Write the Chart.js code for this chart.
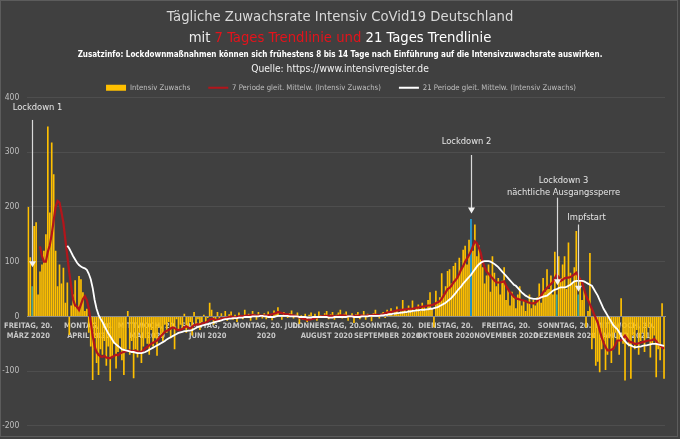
<!DOCTYPE html>
<html>
<head>
<meta charset="utf-8">
<script src="https://cdn.jsdelivr.net/npm/chart.js@4.4.1/dist/chart.umd.min.js"></script>
<style>
  html, body { margin: 0; padding: 0; background: #404040; }
</style>
</head>
<body>
<canvas id="myChart" width="680" height="439"></canvas>
<script>
// Daily ICU growth, one value per day starting Friday 20 March 2020
const startDay = [2020, 2, 20];

const zuwachs = [
  200, 108, 55, 165, 172, 40, 82, 95, 120, 150,
  347, 190, 318, 260, 120, 55, 95, 60, 89, 25,
  62, -34, 20, 40, 66, 15, 74, 68, 44, 10,
  14, -30, -55, -116, -40, -85, -107, -60, -70, -45,
  -90, -55, -118, -75, -50, -95, -65, -40, -80, -107,
  -60, 10, -70, -45, -113, -60, -75, -30, -85, -55,
  -40, -50, -70, -25, -55, -40, -72, -20, -35, -45,
  -15, -30, -10, -40, -20, -60, -5, -25, -15, -23,
  5, -30, -20, -10, -35, 8, -15, -5, -25, -10,
  3, -12, -3, 25, 12, -15, -5, 8, -10, 6,
  -4, 10, -8, 4, 9, -6, 3, -10, 7, 2,
  -5, 12, -3, 5, -8, 10, 4, -6, 8, 2,
  -4, 6, -5, 9, 3, -7, 11, 5, 17, 2,
  -6, 8, 4, -3, 6, 11, -4, 3, 7, -14,
  2, -6, 5, -10, 3, 7, -4, 5, -8, 9,
  2, -3, 6, 10, -5, 4, 8, -6, 3, 7,
  12, -4, 5, 9, -8, 2, 6, -12, 4, 8,
  -5, 3, 10, -6, 5, 2, -9, 6, 12, 3,
  -4, 5, 8, -3, 12, 6, 15, 2, 10, 18,
  4, 9, 30, 12, 6, 20, 14, 29, 8, 16,
  22, 10, 25, 18, 12, 30, 44, 15, -20, 47,
  28, 35, 79, 40, 55, 83, 86, 60, 92, 98,
  70, 107, 85, 122, 129, 95, 140, 178, 120, 168,
  110, 130, 104, 90, 60, 75, 95, 45, 110, 80,
  55, 70, 40, 65, 90, 30, 50, 20, 45, 35,
  15, 40, 55, 20, 30, 10, 25, 40, 15, 30,
  20, 35, 60, 25, 70, 45, 86, 50, 75, 40,
  118, 40, 110, 70, 95, 110, 50, 135, 80, 60,
  90, 156, 40, 70, 30, 50, -20, 10, 116, -60,
  -40, -90, -83, -102, -60, -45, -98, -70, -40, -85,
  -60, -30, -45, -70, 33, -50, -117, -40, -55, -114,
  -35, -60, -25, -70, -45, -30, -65, -40, -20, -75,
  -50, -35, -111, -60, -80, 24, -114
];

const trend7 = [
  null, null, null, null, null, null, 128, 110, 100, 100,
  118, 130, 150, 175, 200, 211, 208, 190, 171, 140,
  110, 80, 55, 30, 20, 18, 12, 22, 32, 37,
  30, 15, -10, -35, -55, -65, -70, -73, -74, -72,
  -75, -76, -76, -74, -72, -70, -71, -68, -66, -65,
  -64, -63, -62, -64, -63, -63, -64, -65, -65, -62,
  -58, -56, -53, -50, -48, -46, -44, -40, -36, -32,
  -28, -26, -25, -22, -20, -21, -24, -25, -24, -23,
  -20, -18, -20, -22, -19, -16, -15, -14, -15, -13,
  -12, -11, -9, -6, -4, -5, -6, -7, -5, -4,
  -3, -3, -2, -1, 0, -1, -2, -1, 0, 1,
  0, 1, 2, 1, 2, 3, 2, 1, 2, 2,
  1, 2, 1, 2, 3, 4, 5, 6, 8, 7,
  6, 5, 4, 4, 3, 2, 2, 1, 0, -2,
  -3, -4, -5, -6, -6, -5, -4, -3, -2, -1,
  0, 0, 1, 1, 1, 1, 1, 0, 0, 1,
  2, 2, 2, 1, 1, 0, 0, 1, 1, 1,
  2, 2, 1, 1, 2, 2, 2, 3, 3, 3,
  2, 3, 4, 6, 7, 8, 8, 9, 10, 11,
  11, 12, 12, 13, 13, 14, 14, 14, 15, 16,
  16, 17, 18, 18, 19, 20, 20, 21, 22, 24,
  26, 28, 32, 38, 44, 50, 52, 56, 62, 66,
  71, 78, 86, 92, 100, 106, 112, 119, 128, 137,
  134, 126, 116, 100, 90, 82, 78, 74, 70, 66,
  62, 62, 62, 63, 64, 56, 50, 44, 40, 36,
  33, 32, 31, 30, 29, 28, 26, 25, 24, 24,
  25, 28, 32, 38, 44, 48, 52, 56, 59, 63,
  70, 76, 72, 65, 67, 70, 71, 71, 72, 74,
  77, 80, 74, 68, 62, 50, 38, 30, 22, 14,
  5, -3, -11, -25, -38, -48, -56, -62, -62, -61,
  -59, -52, -44, -44, -44, -40, -35, -40, -45, -47,
  -48, -50, -50, -49, -48, -47, -46, -45, -44, -44,
  -43, -41, -45, -50, -53, -56, -59
];

const trend21 = [
  null, null, null, null, null, null, null, null, null, null,
  null, null, null, null, null, null, null, null, null, null,
  129, 124, 117, 110, 104, 98, 94, 91, 89, 88,
  85, 78, 68, 52, 30, 14, 3, -4, -10, -17,
  -24, -31, -36, -42, -48, -51, -54, -57, -60, -61,
  -62, -63, -64, -65, -65, -66, -67, -67, -67, -66,
  -65, -63, -61, -59, -57, -55, -53, -51, -49, -47,
  -45, -42, -40, -38, -36, -34, -32, -30, -29, -28,
  -27, -27, -26, -26, -25, -23, -21, -19, -18, -17,
  -16, -15, -14, -13, -12, -11, -10, -9, -8, -7,
  -6, -5, -5, -4, -4, -3, -3, -3, -2, -2,
  -2, -1, -1, -1, -1, 0, 0, 0, 0, 1,
  1, 0, 0, -1, -1, -1, -1, 0, 1, 1,
  1, 1, 1, 1, 0, 0, 0, 0, 0, -1,
  -1, -1, -1, -2, -2, -2, -1, -1, -1, -1,
  -1, -1, -1, -1, -2, -2, -2, -1, -1, -1,
  -1, -1, -1, -1, 0, 0, 0, -1, -1, -1,
  -1, 0, 0, 0, 0, 1, 1, 1, 1, 1,
  1, 2, 2, 3, 3, 4, 4, 5, 5, 6,
  6, 7, 7, 8, 8, 9, 9, 10, 10, 11,
  11, 12, 12, 12, 13, 13, 14, 14, 15, 16,
  17, 19, 21, 23, 25, 28, 31, 34, 38, 42,
  47, 51, 55, 60, 64, 68, 72, 76, 81, 86,
  91, 95, 98, 100, 101, 101, 101, 100, 98, 96,
  93, 90, 86, 82, 78, 74, 70, 66, 62, 58,
  56, 52, 48, 44, 41, 38, 36, 34, 33, 32,
  32, 32, 33, 35, 36, 37, 38, 41, 44, 47,
  49, 50, 52, 53, 53, 53, 54, 56, 58, 61,
  64, 65, 65, 65, 65, 64, 62, 60, 58, 56,
  50, 44, 38, 30, 22, 14, 8, 2, -4, -10,
  -16, -20, -23, -29, -35, -41, -45, -49, -52, -53,
  -55, -56, -56, -55, -55, -54, -53, -53, -52, -51,
  -50, -50, -50, -51, -52, -53, -54
];

const tickDates = ['2020-03-20', '2020-04-20', '2020-05-20', '2020-06-20', '2020-07-20', '2020-08-20',
  '2020-09-20', '2020-10-20', '2020-11-20', '2020-12-20', '2021-01-20'];
const tickLabels = [
  ['FREITAG, 20.', 'MÄRZ 2020'], ['MONTAG, 20.', 'APRIL 2020'], ['MITTWOCH, 20.', 'MAI 2020'],
  ['SAMSTAG, 20.', 'JUNI 2020'], ['MONTAG, 20. JULI', '2020'], ['DONNERSTAG, 20.', 'AUGUST 2020'],
  ['SONNTAG, 20.', 'SEPTEMBER 2020'], ['DIENSTAG, 20.', 'OKTOBER 2020'], ['FREITAG, 20.', 'NOVEMBER 2020'],
  ['SONNTAG, 20.', 'DEZEMBER 2020'], ['MITTWOCH, 20.', 'JANUAR 2021']
];
const yTicks = [-200, -100, 0, 100, 200, 300, 400];

// dates of the marked events
const markDates = ['2020-03-22', '2020-11-02', '2020-12-16', '2020-12-27'];
const markTexts = [['Lockdown 1'], ['Lockdown 2'], ['Lockdown 3', 'nächtliche Ausgangssperre'], ['Impfstart']];

const titleLine1 = 'Tägliche Zuwachsrate Intensiv CoVid19 Deutschland';
const titleLine2 = [['mit ', '#ededed'], ['7 Tages Trendlinie und', '#e3131b'], [' 21 Tages Trendlinie', '#ffffff']];
const infoLine = 'Zusatzinfo: Lockdownmaßnahmen können sich frühestens 8 bis 14 Tage nach Einführung auf die Intensivzuwachsrate auswirken.';
const sourceLine = 'Quelle: https://www.intensivregister.de';

// ---- styling ----
const FONT = "'DejaVu Sans Condensed', 'Liberation Sans Narrow', 'Open Sans', sans-serif";
const BG = '#404040';
const BAR_GOLD = '#ffc000';
const RED = '#b3151b';
const highlightColors = { '2020-03-22': '#55a488', '2020-11-02': '#22a2dc', '2020-12-16': '#3fa896', '2020-12-27': '#3fa896' };
// where arrow text / arrow ends sit, in y-axis units, plus a small x shift of the text
const markLayout = [
  { textY: 381, top: 359, tip: 90, dx: 5 },
  { textY: 320, top: 295, tip: 188, dx: -5 },
  { textY: 249, top: 217, tip: 57, dx: 6 },
  { textY: 180, top: 168, tip: 45, dx: 8 }
];
const LEGEND_H = 31.5;
const LEGEND_SHIFT = 8.5;

Chart.defaults.font.family = FONT;

const categories = zuwachs.map((v, i) => {
  const d = new Date(Date.UTC(startDay[0], startDay[1], startDay[2] + i));
  return d.toISOString().slice(0, 10);
});

function drawRuns(c, runs, cx, y, font) {
  c.font = font;
  const total = runs.reduce((s, r) => s + c.measureText(r[0]).width, 0);
  let x = cx - total / 2;
  runs.forEach(([t, col]) => {
    c.fillStyle = col;
    c.fillText(t, x, y);
    x += c.measureText(t).width;
  });
}

const backdrop = {
  id: 'backdrop',
  beforeDraw(chart) {
    const c = chart.ctx;
    c.save();
    c.fillStyle = BG;
    c.fillRect(0, 0, chart.width, chart.height);
    c.strokeStyle = '#5c5c5c';
    c.lineWidth = 1;
    c.strokeRect(0.5, 0.5, chart.width - 3, chart.height - 3);
    c.restore();
  }
};

const header = {
  id: 'header',
  afterDraw(chart) {
    const c = chart.ctx;
    const cx = chart.width / 2;
    c.save();
    c.textBaseline = 'middle';
    c.textAlign = 'left';
    drawRuns(c, [[titleLine1, '#d9d9d9']], cx, 17, '14.7px ' + FONT);
    drawRuns(c, titleLine2, cx, 38, '14.7px ' + FONT);
    drawRuns(c, [[infoLine, '#ffffff']], cx, 55, 'bold 8px ' + FONT);
    drawRuns(c, [[sourceLine, '#f2f2f2']], cx, 69, '10.2px ' + FONT);
    c.restore();
  }
};

const eventMarks = {
  id: 'eventMarks',
  afterDatasetsDraw(chart) {
    const { ctx, scales: { x, y } } = chart;
    ctx.save();
    markDates.forEach((date, k) => {
      const m = markLayout[k];
      const px = Math.round(x.getPixelForValue(categories.indexOf(date))) + 0.5;
      const yTop = y.getPixelForValue(m.top);
      const yTip = y.getPixelForValue(m.tip);
      ctx.strokeStyle = '#d9d9d9';
      ctx.lineWidth = 1.2;
      ctx.beginPath();
      ctx.moveTo(px, yTop);
      ctx.lineTo(px, yTip - 5);
      ctx.stroke();
      ctx.fillStyle = '#f2f2f2';
      ctx.beginPath();
      ctx.moveTo(px - 3.5, yTip - 6);
      ctx.lineTo(px + 3.5, yTip - 6);
      ctx.lineTo(px, yTip);
      ctx.closePath();
      ctx.fill();
      ctx.font = '9.3px ' + FONT;
      ctx.textAlign = 'center';
      ctx.textBaseline = 'middle';
      ctx.fillStyle = '#e6e6e6';
      const ty = y.getPixelForValue(m.textY);
      markTexts[k].forEach((t, i) => ctx.fillText(t, px + m.dx, ty + i * 12.6));
    });
    ctx.restore();
  }
};

// legend box: fixed height, and centred on the whole picture rather than the padded area
const legendFit = {
  id: 'legendFit',
  beforeInit(chart) {
    const lg = chart.legend;
    if (!lg) return;
    const fit = lg.fit;
    lg.fit = function () {
      fit.call(this);
      this.height = LEGEND_H;
    };
  },
  afterLayout(chart) {
    const lg = chart.legend;
    if (!lg) return;
    lg.left += LEGEND_SHIFT;
    lg.right += LEGEND_SHIFT;
  }
};

const ctx = document.getElementById('myChart').getContext('2d');
const myChart = new Chart(ctx, {
  data: {
    labels: categories,
    datasets: [{
      type: 'bar',
      label: 'Intensiv Zuwachs',
      data: zuwachs,
      backgroundColor: c => highlightColors[categories[c.dataIndex]] || BAR_GOLD,
      barPercentage: 0.85,
      categoryPercentage: 1.0,
      order: 3
    }, {
      type: 'line',
      label: '7 Periode gleit. Mittelw. (Intensiv Zuwachs)',
      data: trend7,
      borderColor: RED,
      backgroundColor: RED,
      borderWidth: 2.2,
      pointRadius: 0,
      order: 2
    }, {
      type: 'line',
      label: '21 Periode gleit. Mittelw. (Intensiv Zuwachs)',
      data: trend21,
      borderColor: '#ffffff',
      backgroundColor: '#ffffff',
      borderWidth: 1.8,
      pointRadius: 0,
      order: 1
    }]
  },
  options: {
    responsive: false,
    animation: false,
    events: [],
    layout: { padding: { top: 66, left: 0, right: 15, bottom: 11.5 } },
    plugins: {
      title: { display: false },
      tooltip: { enabled: false },
      legend: {
        position: 'top',
        labels: {
          usePointStyle: true,
          pointStyleWidth: 20,
          boxHeight: 6,
          padding: 18,
          color: '#bfbfbf',
          font: { size: 7.7, family: FONT },
          generateLabels: chart => chart.data.datasets.map((ds, i) => ({
            text: ds.label,
            fillStyle: i === 0 ? BAR_GOLD : ds.borderColor,
            strokeStyle: i === 0 ? BAR_GOLD : ds.borderColor,
            lineWidth: i === 0 ? 0 : 2,
            pointStyle: i === 0 ? 'rect' : 'line',
            fontColor: '#bfbfbf',
            hidden: false,
            datasetIndex: i
          }))
        }
      }
    },
    scales: {
      x: {
        type: 'category',
        position: { y: 0 },
        offset: true,
        grid: { display: false, drawTicks: false },
        border: { display: true, color: '#8c8c8c', width: 1 },
        ticks: {
          autoSkip: false,
          maxRotation: 0,
          minRotation: 0,
          padding: 4,
          color: '#c8c8c8',
          font: { size: 7.5, weight: 'bold', family: FONT, lineHeight: 1.4 },
          callback: (value, index) => {
            const k = tickDates.indexOf(categories[index]);
            return k >= 0 ? tickLabels[k] : '';
          }
        }
      },
      y: {
        min: -200,
        max: 400,
        afterBuildTicks: s => { s.ticks = yTicks.map(v => ({ value: v })); },
        afterFit: s => { s.width = 25; },
        grid: { color: '#4e4e4e', drawTicks: false },
        border: { display: false },
        ticks: { padding: 8, color: '#bfbfbf', font: { size: 8.5, family: FONT } }
      }
    }
  },
  plugins: [backdrop, legendFit, header, eventMarks]
});
</script>
</body>
</html>
